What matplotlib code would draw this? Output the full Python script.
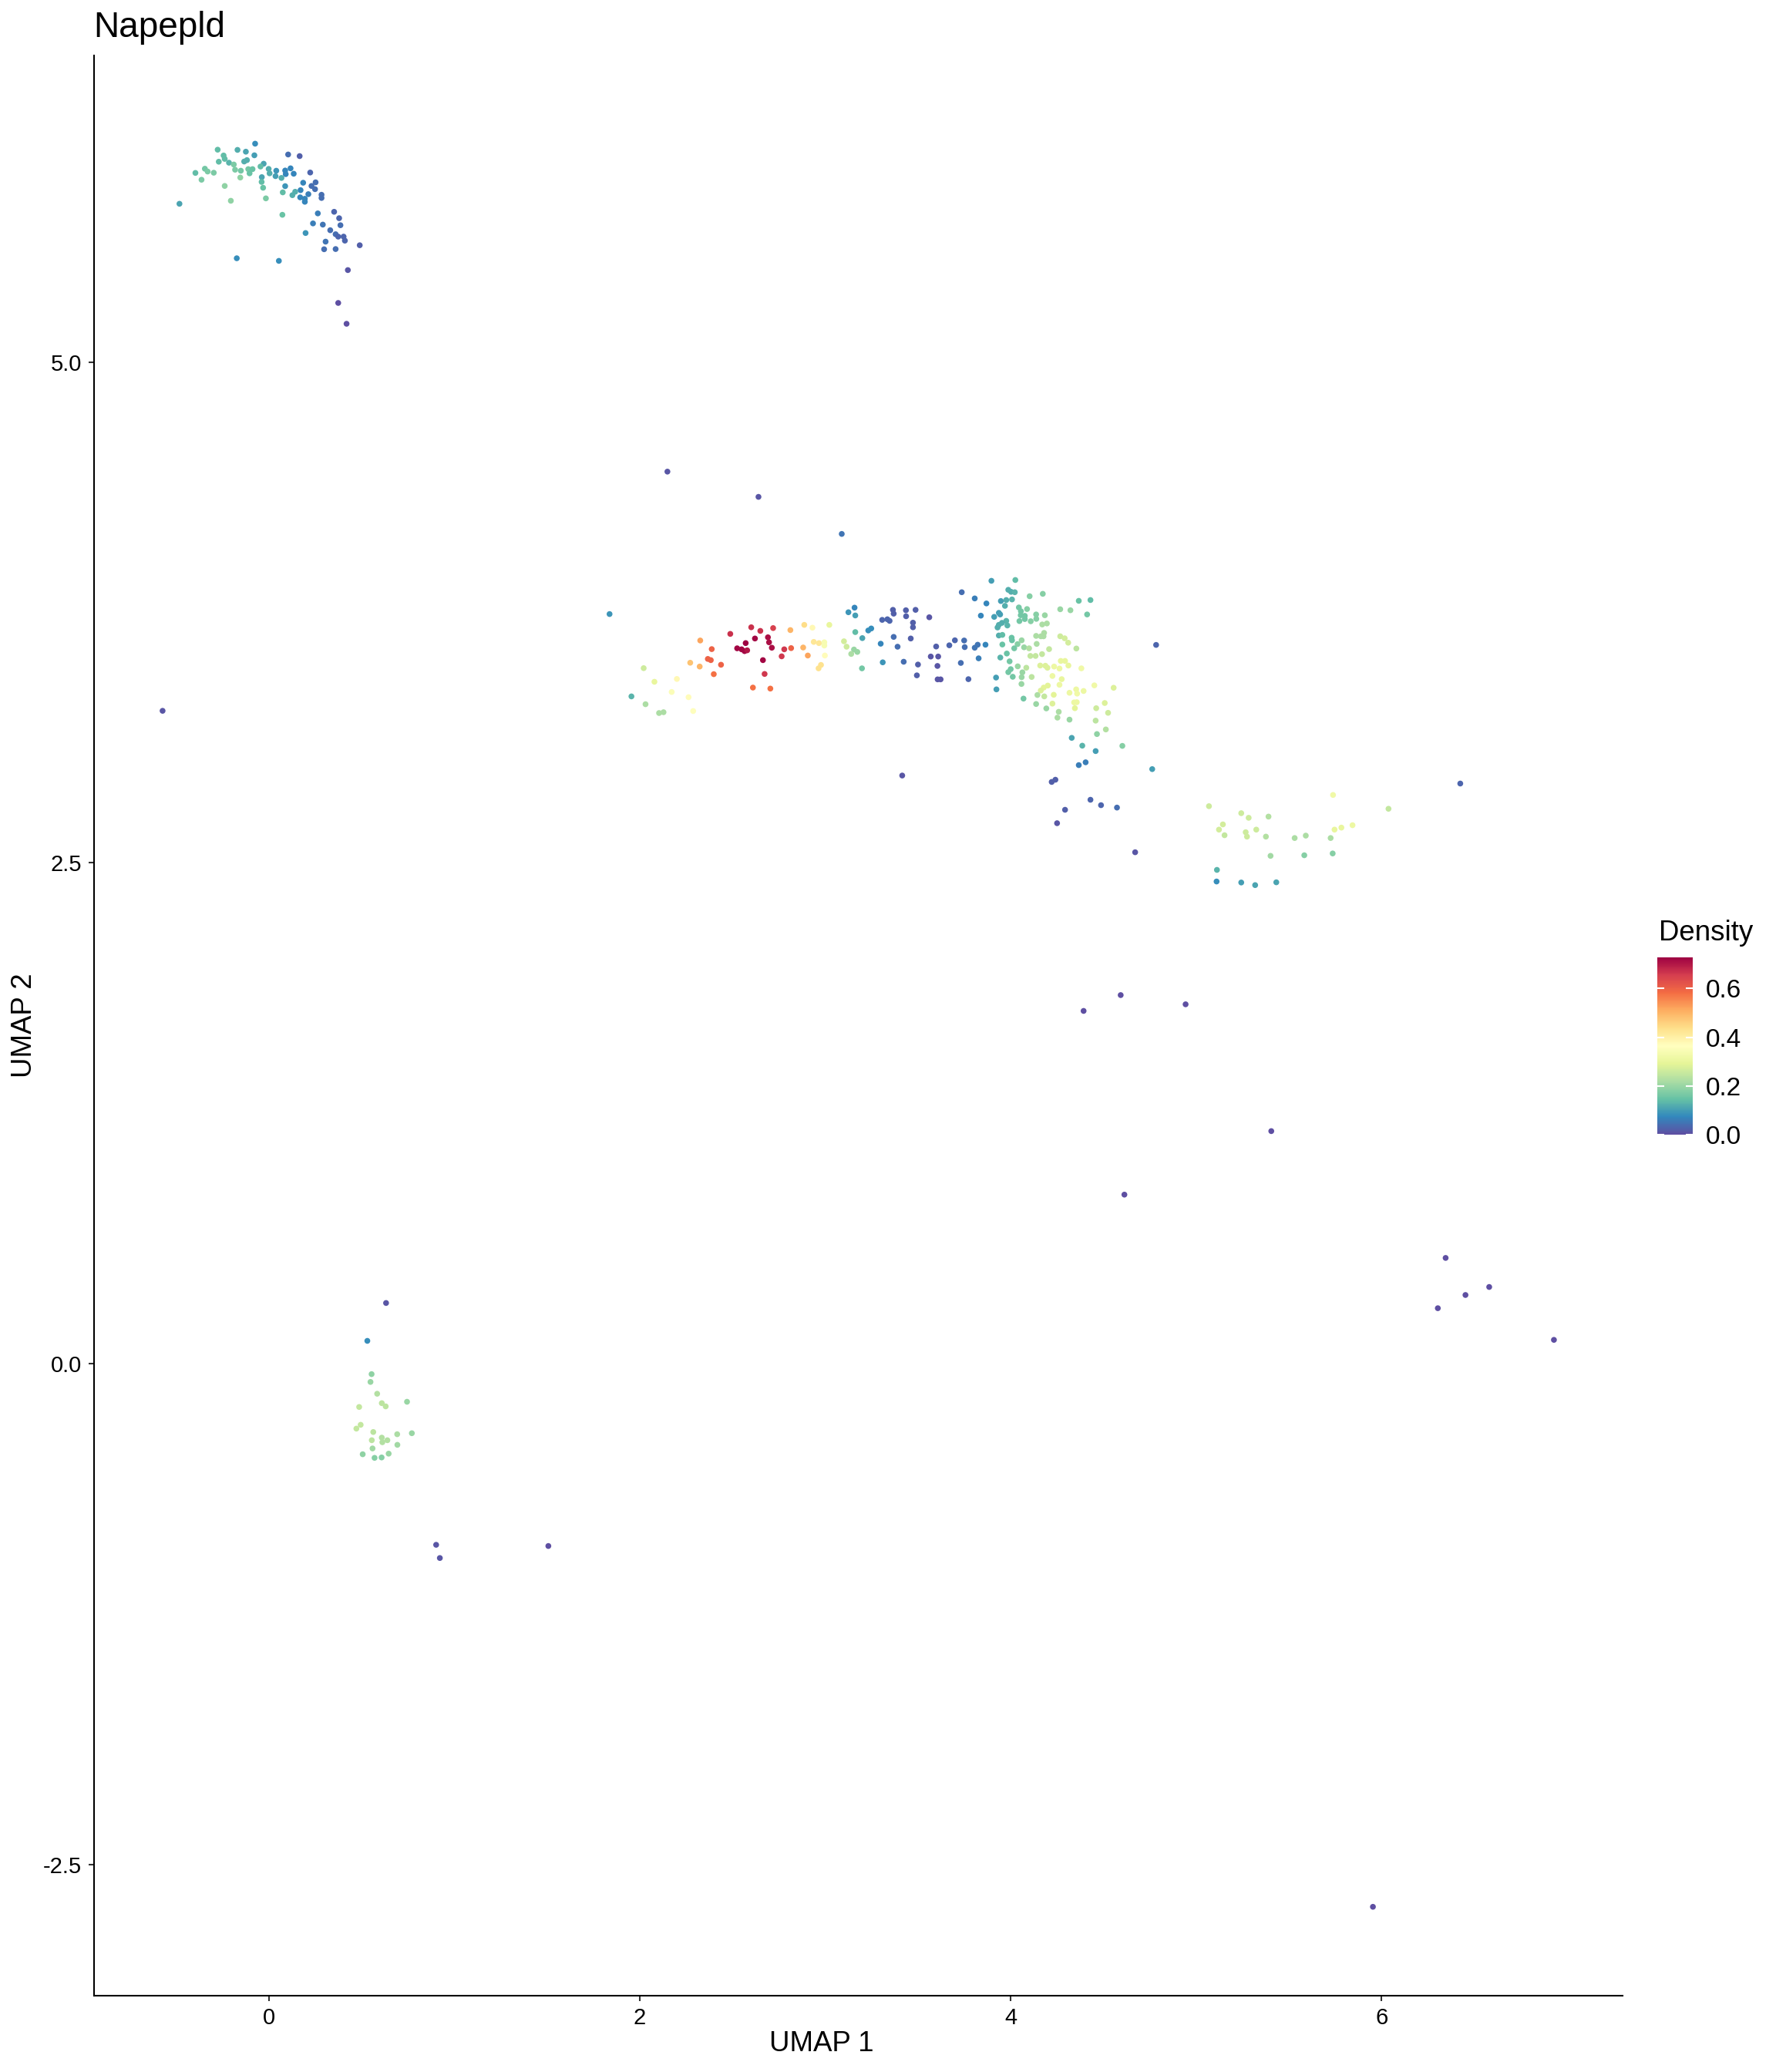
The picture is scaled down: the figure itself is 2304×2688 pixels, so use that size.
import numpy as np
import matplotlib
matplotlib.use("Agg")
import matplotlib.pyplot as plt

plt.rcParams['font.family'] = ['Liberation Sans', 'DejaVu Sans']

# top-left cluster
top_x = [-0.073, -0.275, -0.168, -0.123, -0.077, 0.105, 0.167, -0.243, -0.237, -0.269,
         -0.214, -0.188, -0.132, -0.117, -0.027, -0.044, -0.344, -0.329, -0.395, -0.296,
         -0.181, -0.150, -0.110, -0.087, -0.103, 0.000, 0.005, 0.041, 0.089, 0.118,
         0.092, 0.135, 0.037, 0.069, 0.224, -0.037, -0.362, -0.153, -0.038, -0.030,
         -0.237, 0.089, 0.186, 0.231, 0.253, 0.250, 0.172, 0.143, 0.128, 0.076,
         0.214, 0.170, 0.195, 0.195, 0.285, 0.285, -0.015, -0.204, -0.481, 0.074,
         0.265, 0.353, 0.380, 0.387, 0.239, 0.292, 0.332, 0.199, 0.361, 0.375,
         0.404, 0.411, 0.307, 0.299, 0.361, 0.491, -0.172, 0.055, 0.427, 0.375, 0.420]
top_y = [6.090, 6.060, 6.059, 6.050, 6.032, 6.036, 6.028, 6.031, 6.014, 6.000,
         5.995, 5.986, 6.001, 6.008, 5.990, 5.976, 5.965, 5.951, 5.944, 5.945,
         5.960, 5.955, 5.963, 5.963, 5.942, 5.964, 5.942, 5.955, 5.956, 5.967,
         5.938, 5.940, 5.928, 5.919, 5.946, 5.923, 5.910, 5.921, 5.899, 5.870,
         5.879, 5.878, 5.895, 5.879, 5.897, 5.863, 5.858, 5.850, 5.833, 5.847,
         5.838, 5.822, 5.815, 5.800, 5.835, 5.819, 5.817, 5.805, 5.790, 5.735,
         5.742, 5.750, 5.718, 5.683, 5.692, 5.686, 5.658, 5.644, 5.638, 5.626,
         5.626, 5.606, 5.601, 5.563, 5.564, 5.583, 5.518, 5.505, 5.459, 5.295, 5.191]
top_d = [0.08, 0.14, 0.12, 0.11, 0.10, 0.04, 0.02, 0.14, 0.14, 0.14,
         0.13, 0.17, 0.12, 0.12, 0.11, 0.14, 0.16, 0.17, 0.14, 0.17,
         0.17, 0.16, 0.16, 0.15, 0.15, 0.12, 0.12, 0.09, 0.07, 0.07,
         0.07, 0.07, 0.10, 0.12, 0.03, 0.11, 0.17, 0.19, 0.14, 0.15,
         0.19, 0.09, 0.07, 0.04, 0.04, 0.04, 0.07, 0.12, 0.12, 0.14,
         0.06, 0.07, 0.07, 0.07, 0.04, 0.04, 0.17, 0.19, 0.11, 0.15,
         0.06, 0.03, 0.03, 0.04, 0.06, 0.05, 0.04, 0.09, 0.04, 0.03,
         0.03, 0.03, 0.05, 0.04, 0.04, 0.02, 0.08, 0.08, 0.01, 0.00, 0.00]

# middle band, left part (the hot spot)
mid_x = [1.838, 3.159, 3.126, 3.163, 2.602, 2.651, 2.720, 2.489, 2.813, 2.888,
         2.932, 3.023, 2.572, 2.622, 2.692, 2.698, 2.713, 2.526, 2.550, 2.566,
         2.580, 2.327, 2.389, 2.780, 2.817, 2.766, 2.665, 2.882, 2.907, 2.939,
         2.967, 2.996, 2.996, 2.999, 2.978, 2.965, 3.102, 3.116, 3.156, 3.141,
         3.174, 3.199, 3.163, 3.201, 2.368, 2.384, 2.439, 2.273, 2.324, 2.400,
         2.022, 2.080, 2.201, 2.173, 2.264, 2.289, 1.956, 2.032, 2.105, 2.129,
         2.611, 2.705, 2.674]
mid_y = [3.742, 3.774, 3.751, 3.735, 3.676, 3.658, 3.672, 3.643, 3.662, 3.688,
         3.674, 3.688, 3.597, 3.620, 3.626, 3.601, 3.574, 3.571, 3.566, 3.557,
         3.561, 3.610, 3.567, 3.566, 3.572, 3.531, 3.512, 3.575, 3.535, 3.603,
         3.597, 3.601, 3.585, 3.535, 3.488, 3.471, 3.606, 3.579, 3.565, 3.543,
         3.553, 3.471, 3.652, 3.622, 3.518, 3.512, 3.489, 3.499, 3.480, 3.442,
         3.472, 3.404, 3.418, 3.353, 3.327, 3.258, 3.331, 3.292, 3.248, 3.252,
         3.375, 3.370, 3.443]
mid_d = [0.09, 0.07, 0.09, 0.10, 0.67, 0.67, 0.65, 0.67, 0.50, 0.44,
         0.38, 0.30, 0.73, 0.72, 0.71, 0.71, 0.71, 0.72, 0.72, 0.72,
         0.70, 0.52, 0.60, 0.66, 0.60, 0.66, 0.72, 0.50, 0.52, 0.42,
         0.42, 0.34, 0.34, 0.37, 0.43, 0.43, 0.27, 0.26, 0.20, 0.22,
         0.20, 0.16, 0.14, 0.11, 0.60, 0.60, 0.60, 0.48, 0.50, 0.58,
         0.26, 0.30, 0.38, 0.35, 0.37, 0.36, 0.13, 0.22, 0.22, 0.22,
         0.58, 0.58, 0.66]

# middle band, low density strip
band_x = [3.366, 3.436, 3.488, 3.370, 3.437, 3.562, 3.308, 3.336, 3.348, 3.474,
          3.474, 3.233, 3.249, 3.370, 3.462, 3.300, 3.391, 3.599, 3.670, 3.700,
          3.750, 3.753, 3.807, 3.823, 3.865, 3.570, 3.610, 3.606, 3.311, 3.424,
          3.501, 3.732, 3.828, 3.495, 3.607, 3.623, 3.773]
band_y = [3.763, 3.761, 3.763, 3.744, 3.731, 3.726, 3.713, 3.716, 3.708, 3.699,
          3.676, 3.660, 3.670, 3.628, 3.620, 3.594, 3.579, 3.580, 3.586, 3.611,
          3.610, 3.577, 3.574, 3.589, 3.589, 3.530, 3.530, 3.483, 3.501, 3.504,
          3.490, 3.498, 3.521, 3.436, 3.416, 3.416, 3.417]
band_d = [0.02, 0.02, 0.02, 0.02, 0.02, 0.01, 0.03, 0.03, 0.03, 0.02,
          0.02, 0.08, 0.08, 0.04, 0.02, 0.07, 0.04, 0.02, 0.03, 0.03,
          0.04, 0.04, 0.05, 0.05, 0.07, 0.01, 0.01, 0.01, 0.09, 0.04,
          0.02, 0.04, 0.06, 0.02, 0.01, 0.01, 0.03]

# middle band, right blob
blob_x = [3.897, 4.026, 3.988, 4.003, 4.023, 3.737, 3.807, 3.870, 3.948, 3.977,
          4.008, 3.970, 4.103, 4.174, 4.368, 4.431, 4.045, 4.089, 4.056, 4.055,
          4.077, 4.077, 4.048, 4.109, 4.138, 4.139, 4.185, 4.268, 4.323, 4.413,
          4.171, 4.196, 3.840, 3.912, 3.937, 3.944, 3.977, 3.954, 3.937, 3.983,
          3.930, 3.937, 3.956, 4.006, 4.008, 4.060, 4.038, 4.020, 4.073, 4.100,
          4.138, 4.164, 4.181, 4.178, 4.141, 4.268, 4.292, 4.311, 4.355, 4.208,
          3.956, 3.980, 3.945, 3.995, 4.107, 4.135, 4.170, 4.039, 4.085, 4.001,
          3.988, 4.064, 4.060, 4.012, 4.114, 3.922, 3.924, 4.059, 4.160, 4.188,
          4.199, 4.235, 4.264, 4.271, 4.294, 4.312, 4.382, 4.226, 4.276, 4.264,
          4.201, 4.179, 4.163, 4.452, 4.556, 4.318, 4.354, 4.359, 4.394, 4.233,
          4.145, 4.182, 4.070, 4.138, 4.226, 4.343, 4.357, 4.347, 4.193, 4.260,
          4.253, 4.318, 4.462, 4.508, 4.526, 4.459, 4.514, 4.466, 4.330, 4.387,
          4.603, 4.459, 4.405, 4.368, 4.242, 4.222, 4.431, 4.488, 4.574, 4.294, 3.416]
blob_y = [3.908, 3.912, 3.863, 3.853, 3.851, 3.851, 3.820, 3.795, 3.807, 3.812,
          3.815, 3.783, 3.831, 3.843, 3.808, 3.812, 3.775, 3.767, 3.756, 3.736,
          3.733, 3.717, 3.707, 3.706, 3.740, 3.718, 3.736, 3.766, 3.761, 3.740,
          3.690, 3.695, 3.734, 3.728, 3.748, 3.740, 3.708, 3.698, 3.688, 3.685,
          3.675, 3.635, 3.638, 3.624, 3.611, 3.611, 3.592, 3.571, 3.576, 3.571,
          3.633, 3.631, 3.648, 3.631, 3.593, 3.631, 3.621, 3.599, 3.570, 3.567,
          3.590, 3.545, 3.525, 3.506, 3.533, 3.533, 3.542, 3.481, 3.474, 3.467,
          3.452, 3.451, 3.427, 3.429, 3.428, 3.425, 3.366, 3.393, 3.485, 3.484,
          3.474, 3.480, 3.470, 3.508, 3.508, 3.485, 3.471, 3.433, 3.417, 3.389,
          3.385, 3.375, 3.360, 3.386, 3.374, 3.349, 3.366, 3.345, 3.358, 3.339,
          3.338, 3.331, 3.320, 3.293, 3.295, 3.301, 3.302, 3.272, 3.271, 3.254,
          3.225, 3.215, 3.272, 3.298, 3.249, 3.210, 3.166, 3.143, 3.124, 3.085,
          3.084, 3.058, 3.002, 2.988, 2.915, 2.904, 2.815, 2.788, 2.776, 2.765, 2.936]
blob_d = [0.10, 0.14, 0.12, 0.12, 0.13, 0.04, 0.06, 0.07, 0.10, 0.12,
          0.13, 0.12, 0.18, 0.18, 0.15, 0.14, 0.16, 0.18, 0.16, 0.16,
          0.16, 0.16, 0.16, 0.18, 0.18, 0.18, 0.20, 0.20, 0.20, 0.16,
          0.22, 0.22, 0.07, 0.10, 0.10, 0.10, 0.13, 0.12, 0.12, 0.13,
          0.12, 0.12, 0.14, 0.15, 0.15, 0.20, 0.18, 0.16, 0.20, 0.23,
          0.22, 0.22, 0.22, 0.22, 0.22, 0.26, 0.27, 0.27, 0.24, 0.25,
          0.15, 0.15, 0.13, 0.16, 0.25, 0.25, 0.25, 0.20, 0.24, 0.16,
          0.16, 0.20, 0.20, 0.16, 0.24, 0.10, 0.10, 0.20, 0.28, 0.28,
          0.28, 0.31, 0.31, 0.30, 0.30, 0.30, 0.32, 0.31, 0.30, 0.31,
          0.29, 0.29, 0.28, 0.32, 0.28, 0.31, 0.31, 0.32, 0.31, 0.29,
          0.22, 0.25, 0.16, 0.20, 0.28, 0.31, 0.31, 0.29, 0.20, 0.22,
          0.22, 0.20, 0.26, 0.28, 0.26, 0.24, 0.23, 0.19, 0.11, 0.13,
          0.18, 0.10, 0.06, 0.06, 0.02, 0.02, 0.03, 0.03, 0.04, 0.02, 0.01]

# right cluster
right_x = [5.739, 5.070, 6.038, 5.244, 5.284, 5.391, 5.145, 5.124, 5.154, 5.268,
           5.275, 5.325, 5.377, 5.532, 5.592, 5.747, 5.784, 5.844, 5.726, 5.402,
           5.584, 5.737, 5.113, 5.111, 5.244, 5.319, 5.433]
right_y = [2.839, 2.783, 2.770, 2.748, 2.725, 2.731, 2.692, 2.666, 2.638, 2.653,
           2.631, 2.666, 2.631, 2.624, 2.636, 2.666, 2.676, 2.688, 2.624, 2.535,
           2.538, 2.547, 2.465, 2.407, 2.402, 2.389, 2.403]
right_d = [0.32, 0.26, 0.25, 0.26, 0.26, 0.23, 0.27, 0.27, 0.25, 0.26,
           0.26, 0.26, 0.23, 0.22, 0.22, 0.30, 0.30, 0.31, 0.22, 0.21,
           0.18, 0.18, 0.13, 0.08, 0.10, 0.11, 0.11]

# bottom cluster
low_x = [0.633, 0.532, 0.555, 0.549, 0.585, 0.610, 0.631, 0.746, 0.488, 0.496,
         0.473, 0.564, 0.693, 0.772, 0.610, 0.556, 0.640, 0.613, 0.694, 0.560,
         0.507, 0.647, 0.571, 0.609]
low_y = [0.303, 0.114, -0.052, -0.091, -0.150, -0.197, -0.213, -0.190, -0.216, -0.305,
         -0.324, -0.341, -0.352, -0.347, -0.369, -0.382, -0.382, -0.392, -0.405, -0.423,
         -0.452, -0.449, -0.470, -0.468]
low_d = [0.01, 0.08, 0.19, 0.20, 0.23, 0.24, 0.24, 0.20, 0.25, 0.25,
         0.25, 0.24, 0.22, 0.20, 0.23, 0.24, 0.23, 0.23, 0.21, 0.21,
         0.19, 0.20, 0.18, 0.18]

# scattered single cells
lone_x = [-0.572, 2.150, 2.641, 3.090, 4.785, 4.764, 4.672, 4.251, 4.594, 4.394,
          4.944, 5.406, 4.614, 6.425, 6.346, 6.304, 6.453, 6.581, 6.930, 5.954,
          0.903, 0.923, 1.508]
lone_y = [3.259, 4.453, 4.327, 4.142, 3.588, 2.968, 2.553, 2.698, 1.840, 1.761,
          1.794, 1.161, 0.844, 2.896, 0.528, 0.277, 0.343, 0.383, 0.119, -2.711,
          -0.904, -0.970, -0.910]
lone_d = [0.01, 0.01, 0.01, 0.05, 0.03, 0.10, 0.01, 0.01, 0.00, 0.00,
          0.00, 0.00, 0.00, 0.03, 0.00, 0.00, 0.00, 0.00, 0.00, 0.00,
          0.01, 0.01, 0.00]

umap1 = np.concatenate([top_x, mid_x, band_x, blob_x, right_x, low_x, lone_x])
umap2 = np.concatenate([top_y, mid_y, band_y, blob_y, right_y, low_y, lone_y])
density = np.concatenate([top_d, mid_d, band_d, blob_d, right_d, low_d, lone_d])

dens_max = 0.728

fig = plt.figure(figsize=(7.68, 8.96), dpi=300)
ax = fig.add_axes([0.0528, 0.0368, 0.8608, 0.9364])

sc = ax.scatter(umap1, umap2, c=density, cmap='Spectral_r', vmin=0, vmax=dens_max,
                s=3.3, linewidths=0)

ax.set_xlim(-0.943, 7.300)
ax.set_ylim(-3.155, 6.530)

ax.spines['top'].set_visible(False)
ax.spines['right'].set_visible(False)
for side in ['left', 'bottom']:
    ax.spines[side].set_linewidth(0.5)

ax.set_xticks([0, 2, 4, 6])
ax.set_xticklabels(['0', '2', '4', '6'])
ax.set_yticks([-2.5, 0, 2.5, 5.0])
ax.set_yticklabels(['-2.5', '0.0', '2.5', '5.0'])
ax.tick_params(length=1.7, width=0.5, color='#333333', labelsize=7, pad=2,
               labelcolor='black')

ax.set_xlabel('UMAP 1', fontsize=8.8)
ax.xaxis.set_label_coords(0.476, -0.018)
ax.set_ylabel('UMAP 2', fontsize=8.8, va='center')
ax.yaxis.set_label_coords(-0.0457, 0.5)

ax.set_title('Napepld', loc='left', fontsize=11, pad=5.8)

# colour bar legend
cax = fig.add_axes([0.9332, 0.4524, 0.020, 0.0856])
cb = fig.colorbar(sc, cax=cax)
cb.outline.set_visible(False)
cb.set_ticks([0, 0.2, 0.4, 0.6])
cb.set_ticklabels(['0.0', '0.2', '0.4', '0.6'])
cax.tick_params(direction='in', left=True, right=True, color='white',
                length=2.2, width=0.5, labelsize=8, pad=4.0)
fig.text(0.9340, 0.5461, 'Density', fontsize=8.8, va='baseline', ha='left')

fig.savefig('out.png', dpi=300)
